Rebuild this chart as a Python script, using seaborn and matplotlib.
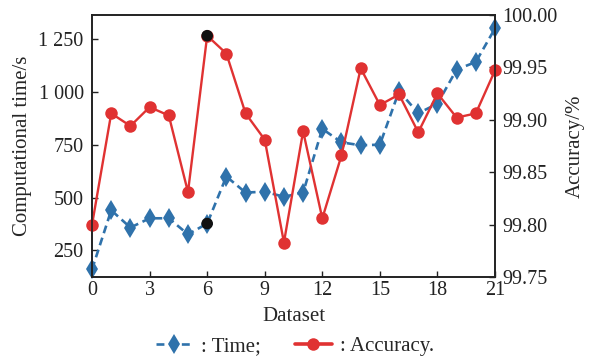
import matplotlib
matplotlib.use("Agg")
import matplotlib.pyplot as plt
import seaborn as sns
import pandas as pd
from matplotlib.lines import Line2D
from matplotlib.ticker import FuncFormatter

sns.set_theme(style="ticks")
plt.rcParams['font.family'] = ['Liberation Serif', 'DejaVu Serif']

dataset = list(range(22))
time_s = [160, 440, 358, 402, 402, 326, 377, 600, 524, 528, 504, 524,
          826, 762, 748, 751, 1005, 900, 945, 1107, 1143, 1302]
accuracy = [99.800, 99.906, 99.894, 99.912, 99.904, 99.831, 99.980, 99.963,
            99.906, 99.881, 99.783, 99.889, 99.806, 99.866, 99.949, 99.914,
            99.924, 99.888, 99.925, 99.902, 99.906, 99.947]
highlight_idx = [6]
x_ticks = [0, 3, 6, 9, 12, 15, 18, 21]
left_ticks = [250, 500, 750, 1000, 1250]
right_ticks = [99.75, 99.80, 99.85, 99.90, 99.95, 100.00]

blue = "#2f72ab"
red = "#e03232"

df = pd.DataFrame({"Dataset": dataset, "Time": time_s, "Accuracy": accuracy})
hl = df.iloc[highlight_idx]

fig = plt.figure(figsize=(5.9, 3.59), dpi=100)
ax = fig.add_axes([0.156, 0.228, 0.683, 0.731])
ax2 = ax.twinx()

sns.lineplot(data=df, x="Dataset", y="Time", ax=ax, color=blue, linestyle="--",
             linewidth=1.9, marker="d", markersize=10, markeredgewidth=0,
             clip_on=False, dashes=False)
ax.lines[-1].set_dashes([3, 1.8])
sns.lineplot(data=df, x="Dataset", y="Accuracy", ax=ax2, color=red, linestyle="-",
             linewidth=1.7, marker="o", markersize=9, markeredgewidth=0, clip_on=False)
sns.scatterplot(data=hl, x="Dataset", y="Time", ax=ax, color="#111111", s=70,
                edgecolor="none", zorder=5, clip_on=False)
sns.scatterplot(data=hl, x="Dataset", y="Accuracy", ax=ax2, color="#111111", s=70,
                edgecolor="none", zorder=5, clip_on=False)

ax.set_xlim(0, 21)
ax.set_ylim(123, 1367)
ax2.set_ylim(99.75, 100.00)
ax.set_xticks(x_ticks)
ax.set_yticks(left_ticks)
ax2.set_yticks(right_ticks)
ax.yaxis.set_major_formatter(FuncFormatter(lambda v, p: f"{int(v):,}".replace(",", " ")))
ax2.yaxis.set_major_formatter(FuncFormatter(lambda v, p: f"{v:.2f}"))

fs = 14.5
ax.set_xlabel("Dataset", fontsize=15, labelpad=5)
ax.set_ylabel("Computational time/s", fontsize=15, labelpad=5)
ax2.set_ylabel("Accuracy/%", fontsize=15, labelpad=6)
for a in (ax, ax2):
    a.tick_params(direction="in", labelsize=fs, length=4, width=1, colors="#222222",
                  labelcolor="#222222", pad=3)
    for s in a.spines.values():
        s.set_color("#222222")
        s.set_linewidth(1.2)
ax.tick_params(axis="y", pad=6)
ax2.tick_params(axis="y", pad=5)

handles = [
    Line2D([0], [0], color=blue, linestyle=(0, (3, 1.8)), linewidth=1.9, marker="d",
           markersize=10, markeredgewidth=0),
    Line2D([0], [0], color=red, linestyle="-", linewidth=2.6, marker="o",
           markersize=9, markeredgewidth=0),
]
fig.legend(handles, [": Time;", ": Accuracy."], loc="center", bbox_to_anchor=(0.5, 0.035),
           ncol=2, frameon=False, fontsize=15, handlelength=1.8, handletextpad=0.4,
           columnspacing=1.6, borderaxespad=0)

fig.savefig("out.png", dpi=100)
